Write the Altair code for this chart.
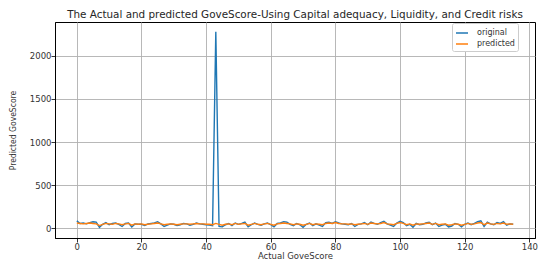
import altair as alt
import pandas as pd

x_index = list(range(136))

original = [
    85, 55, 60, 50, 65, 75, 70, 10, 45, 65,
    40, 55, 60, 45, 20, 55, 60, 15, 50, 45,
    45, 30, 50, 55, 60, 75, 50, 20, 35, 50,
    45, 30, 40, 55, 50, 35, 45, 60, 50, 45,
    40, 35, 30, 2280, 20, 15, 40, 55, 30, 60,
    45, 55, 70, 15, 40, 60, 45, 35, 50, 60,
    40, 15, 55, 60, 75, 70, 45, 30, 55, 40,
    10, 45, 60, 30, 50, 35, 20, 65, 70, 55,
    75, 60, 50, 45, 40, 55, 20, 45, 50, 65,
    40, 70, 55, 45, 65, 80, 50, 35, 20, 60,
    80, 65, 30, 45, 10, 55, 40, 45, 60, 70,
    40, 60, 20, 35, 45, 15, 25, 55, 45, 15,
    45, 60, 40, 55, 75, 85, 20, 70, 50, 40,
    65, 55, 75, 35, 50, 45,
]

predicted = [
    60, 55, 50, 55, 60, 55, 50, 30, 45, 55,
    50, 45, 55, 50, 40, 50, 55, 35, 50, 45,
    50, 40, 45, 50, 55, 60, 50, 40, 45, 50,
    45, 40, 45, 50, 50, 45, 50, 55, 50, 50,
    45, 45, 40, 55, 45, 35, 45, 50, 40, 55,
    45, 50, 55, 35, 45, 55, 45, 40, 50, 55,
    45, 35, 50, 55, 60, 55, 50, 40, 50, 45,
    35, 45, 55, 40, 50, 45, 40, 55, 60, 55,
    65, 55, 50, 50, 45, 50, 40, 45, 50, 55,
    45, 60, 55, 50, 55, 65, 50, 45, 40, 55,
    65, 55, 40, 50, 35, 50, 45, 50, 55, 60,
    45, 55, 40, 45, 50, 35, 40, 50, 45, 35,
    45, 55, 45, 50, 60, 65, 40, 60, 50, 45,
    55, 50, 60, 45, 50, 45,
]

series_names = ["original", "predicted"]
series_colors = ["#1f77b4", "#ff7f0e"]
x_ticks = [0, 20, 40, 60, 80, 100, 120, 140]
y_ticks = [0, 500, 1000, 1500, 2000]

rows = []
for name, vals in zip(series_names, [original, predicted]):
    for i, v in zip(x_index, vals):
        rows.append({"idx": i, "value": v, "series": name})
df = pd.DataFrame(rows)

chart = alt.Chart(df).mark_line(strokeWidth=1.4, clip=True).encode(
    x=alt.X(
        "idx:Q",
        scale=alt.Scale(domain=[-6.75, 141.75], nice=False, zero=False),
        axis=alt.Axis(
            values=x_ticks, title="Actual GoveScore", format="d",
            titleX=240, titleY=17, titleBaseline="middle",
            titleFontSize=8.5, titleFont="DejaVu Sans, Verdana, sans-serif",
            titleFontWeight="normal", titleColor="#333333",
        ),
    ),
    y=alt.Y(
        "value:Q",
        scale=alt.Scale(domain=[-114, 2394], nice=False, zero=False),
        axis=alt.Axis(
            values=y_ticks, title="Predicted GoveScore", format="d",
            titleX=-43, titleY=108, titleBaseline="middle", titleAngle=270,
            titleFontSize=8.5,
            titleFont="Liberation Sans Narrow, DejaVu Sans Condensed, Arial Narrow, sans-serif",
            titleFontWeight="normal", titleColor="#333333",
        ),
    ),
    color=alt.Color(
        "series:N",
        scale=alt.Scale(domain=series_names, range=series_colors),
        legend=alt.Legend(
            title=None, orient="none", legendX=397, legendY=1,
            symbolType="stroke", symbolSize=144, symbolStrokeWidth=1.5,
            labelFontSize=8, labelFont="DejaVu Sans, sans-serif", labelColor="#333333",
            labelOffset=8, rowPadding=-2, padding=3,
            strokeColor="#cccccc", fillColor="white", cornerRadius=2,
        ),
    ),
).properties(
    width=480,
    height=216,
    padding={"left": 47, "top": 14, "right": 7, "bottom": 23},
    autosize=alt.AutoSizeParams(type="none"),
    title=alt.Title(
        "The Actual and predicted GoveScore-Using Capital adequacy, Liquidity, and Credit risks",
        fontSize=10.4, font="DejaVu Sans, sans-serif", fontWeight="normal", color="#262626",
        anchor="middle", offset=2,
    ),
).configure_view(
    stroke="black", strokeWidth=1
).configure_axis(
    domainColor="black", domainWidth=1,
    tickColor="black", tickSize=4, tickWidth=0.8,
    labelFontSize=8.5, labelFont="DejaVu Sans, sans-serif", labelColor="#333333",
    labelPadding=0,
    gridColor="#b0b0b0", gridWidth=0.9, grid=True,
)

chart.save("out.html", embed_options={"renderer": "svg", "actions": False})
